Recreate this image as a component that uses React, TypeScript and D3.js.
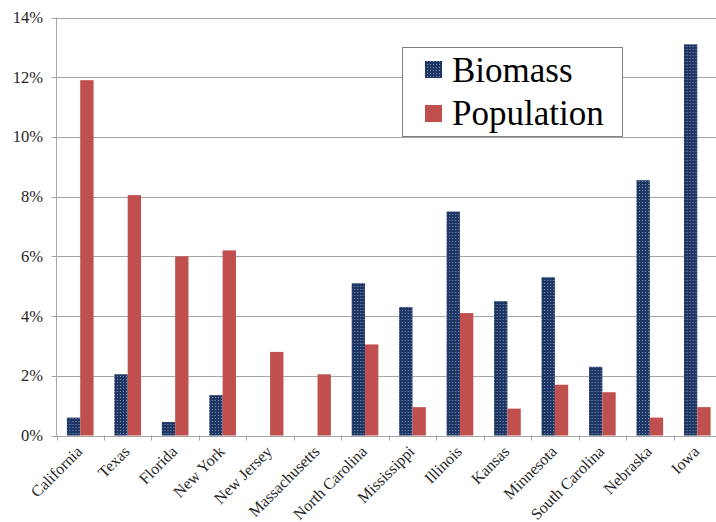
import React from "react";
import * as d3 from "d3";

const states = [
  "California", "Texas", "Florida", "New York", "New Jersey", "Massachusetts",
  "North Carolina", "Mississippi", "Illinois", "Kansas", "Minnesota",
  "South Carolina", "Nebraska", "Iowa",
];
const biomass = [0.6, 2.05, 0.45, 1.35, 0, 0, 5.1, 4.3, 7.5, 4.5, 5.3, 2.3, 8.55, 13.1];
const population = [11.9, 8.05, 6.0, 6.2, 2.8, 2.05, 3.05, 0.95, 4.1, 0.9, 1.7, 1.45, 0.6, 0.95];
const seriesNames = ["Biomass", "Population"];
const yTicks = [0, 2, 4, 6, 8, 10, 12, 14];

const W = 716;
const H = 522;
const left = 56.5;
const right = 721;
const top = 17.5;
const bottom = 435.5;
const FONT = "'Liberation Serif', 'Times New Roman', serif";

export default function App() {
  const x0 = d3.scaleBand<string>().domain(states).range([left, right]).padding(0);
  const x1 = d3
    .scaleBand<string>()
    .domain(seriesNames)
    .range([0, x0.bandwidth()])
    .paddingInner(0)
    .paddingOuter(0.78);
  const y = d3.scaleLinear().domain([0, 14]).range([bottom, top]);

  const fills: Record<string, string> = {
    Biomass: "url(#dots)",
    Population: "#c0504d",
  };

  return (
    <svg
      width={W}
      height={H}
      style={{ position: "absolute", left: 0, top: 0, background: "#fff" }}
      fontFamily={FONT}
    >
      <defs>
        <pattern id="dots" width="3" height="3" patternUnits="userSpaceOnUse">
          <rect width="3" height="3" fill="#1d3664" />
          <rect x="1" y="1" width="1" height="1" fill="#7f95bd" />
        </pattern>
      </defs>

      {/* horizontal gridlines */}
      {yTicks.map((t) => (
        <line
          key={"g" + t}
          x1={left - 5}
          x2={W}
          y1={Math.round(y(t)) + 0.5}
          y2={Math.round(y(t)) + 0.5}
          stroke="#a6a6a6"
          strokeWidth={1}
        />
      ))}

      {/* y axis line */}
      <line x1={left} x2={left} y1={top} y2={bottom} stroke="#a6a6a6" />

      {/* y tick labels */}
      {yTicks.map((t) => (
        <text
          key={"yl" + t}
          x={43}
          y={y(t) + 5.5}
          textAnchor="end"
          fontSize={16.5}
          fill="#262626"
        >
          {t + "%"}
        </text>
      ))}

      {/* x tick marks at band boundaries */}
      {states.map((s) => (
        <line
          key={"xt" + s}
          x1={Math.round(x0(s)!) + 0.5}
          x2={Math.round(x0(s)!) + 0.5}
          y1={bottom}
          y2={bottom + 5}
          stroke="#a6a6a6"
        />
      ))}

      {/* bars */}
      {states.map((s, i) => {
        const vals = [biomass[i], population[i]];
        return (
          <g key={"b" + s} transform={`translate(${x0(s)},0)`}>
            {seriesNames.map((n, j) =>
              vals[j] > 0 ? (
                <rect
                  key={n}
                  x={x1(n)}
                  y={y(vals[j])}
                  width={x1.bandwidth()}
                  height={bottom - y(vals[j])}
                  fill={fills[n]}
                />
              ) : null
            )}
          </g>
        );
      })}

      {/* x category labels */}
      {states.map((s) => {
        const cx = x0(s)! + x0.bandwidth() / 2 + 3;
        const cy = bottom + 17;
        return (
          <text
            key={"xl" + s}
            transform={`translate(${cx},${cy}) rotate(-45)`}
            textAnchor="end"
            fontSize={16}
            fill="#262626"
          >
            {s}
          </text>
        );
      })}

      {/* legend */}
      <g>
        <rect x={402.5} y={47.5} width={220} height={89} fill="#fff" stroke="#7f7f7f" />
        {seriesNames.map((n, i) => (
          <g key={"lg" + n}>
            <rect x={425} y={61 + i * 44} width={17} height={17} fill={fills[n]} />
            <text x={452} y={82 + i * 43} fontSize={35} fill="#000">
              {n}
            </text>
          </g>
        ))}
      </g>
    </svg>
  );
}
